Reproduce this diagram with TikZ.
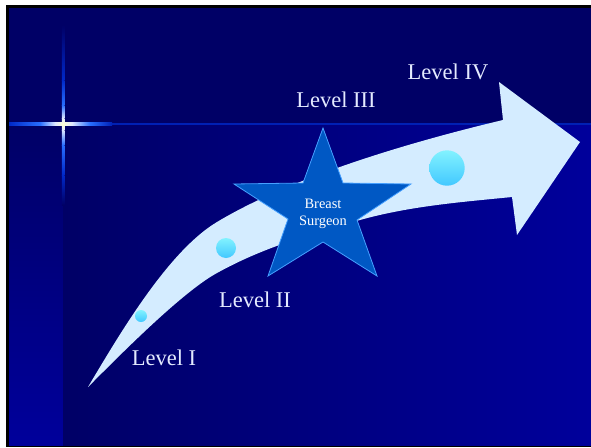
\documentclass[tikz,border=0pt]{standalone}
\usepackage{xcolor}
\usepackage{fontspec}
\setmainfont{Liberation Serif}
\usepackage{tikz}

\definecolor{slidenavy}{RGB}{0,0,102}
\definecolor{slideblue}{RGB}{0,0,155}
\definecolor{bandblue}{RGB}{212,236,255}
\definecolor{starblue}{RGB}{0,88,196}
\definecolor{staredge}{RGB}{70,160,255}
\definecolor{dotlight}{RGB}{130,242,255}
\definecolor{dotdark}{RGB}{66,200,255}
\definecolor{flareblue}{RGB}{40,110,255}
\definecolor{flaredim}{RGB}{0,40,200}
\definecolor{flarepale}{RGB}{220,230,255}
\definecolor{flarecore}{RGB}{255,255,215}
\definecolor{lvltext}{RGB}{228,234,255}

\begin{document}
\begin{tikzpicture}[x=1pt,y=-1pt,
  lvltxt/.style={anchor=base, text=lvltext, font=\fontsize{22.5}{27}\selectfont, inner sep=0pt},
  dot/.style={top color=dotlight, bottom color=dotdark}]
\useasboundingbox (0,0) rectangle (591,447);
\fill[black] (6,5) rectangle (591,447);
\fill[slidenavy] (9,8) rectangle (591,124);
\shade[top color=slidenavy, bottom color=slideblue] (9,124) rectangle (63,445);
\shade[left color=slidenavy, right color=slideblue] (63,124) rectangle (591,445);
\draw[line width=1.2pt, color=flaredim!80!slidenavy] (110,124) -- (591,124);
\shade[left color=flaredim, right color=flareblue] (9,122.8) rectangle (40,125.2);
\shade[left color=flareblue, right color=flarepale] (40,122.8) rectangle (55,125.2);
\shade[left color=flarepale, right color=flarecore] (55,122.8) rectangle (63,125.2);
\shade[left color=flarecore, right color=flarepale] (63,122.8) rectangle (72,125.2);
\shade[left color=flarepale, right color=flareblue] (72,122.8) rectangle (90,125.2);
\shade[left color=flareblue, right color=flaredim!80!slidenavy] (90,122.8) rectangle (112,125.2);
\shade[top color=slidenavy, bottom color=flaredim] (61.9,25) rectangle (64.3,80);
\shade[top color=flaredim, bottom color=flareblue] (61.9,80) rectangle (64.3,105);
\shade[top color=flareblue, bottom color=flarepale] (61.9,105) rectangle (64.3,118);
\shade[top color=flarepale, bottom color=flarecore] (61.9,118) rectangle (64.3,124);
\shade[top color=flarecore, bottom color=flarepale] (61.9,124) rectangle (64.3,130);
\shade[top color=flarepale, bottom color=flareblue] (61.9,130) rectangle (64.3,145);
\shade[top color=flareblue, bottom color=flaredim] (61.9,145) rectangle (64.3,175);
\shade[top color=flaredim, bottom color=slidenavy] (61.9,175) rectangle (64.3,205);
\fill[bandblue] (88,387) .. controls (118,337) and (167,252) .. (217,222)
  .. controls (297,174) and (423,139) .. (503,120)
  -- (499,82) -- (580,142) -- (517,235) -- (512,197)
  .. controls (462,202) and (410,206) .. (360,220)
  .. controls (310,234) and (262,248) .. (217,273)
  .. controls (182,292) and (118,357) .. (88,387) -- cycle;
\shade[dot] (141,316) circle (6);
\shade[dot] (226,248) circle (10);
\shade[dot] (447,168) circle (17.7);
\draw[fill=starblue, draw=staredge, line width=0.8pt] (323,128) -- (343,183) -- (411,184) -- (357,220) -- (377,276) -- (323,242) -- (268,276) -- (288,219) -- (234,184) -- (303,183) -- cycle;
\node[align=center, text=white, font=\fontsize{14.4}{16.5}\selectfont, inner sep=0pt] (surgeon) at (323,214) {Breast\\Surgeon};
\node[lvltxt] (lvlone) at (164,365) {Level I};
\node[lvltxt] (lvltwo) at (255,307) {Level II};
\node[lvltxt] (lvlthree) at (336,107) {Level III};
\node[lvltxt] (lvlfour) at (448,79) {Level IV};
\end{tikzpicture}
\end{document}
